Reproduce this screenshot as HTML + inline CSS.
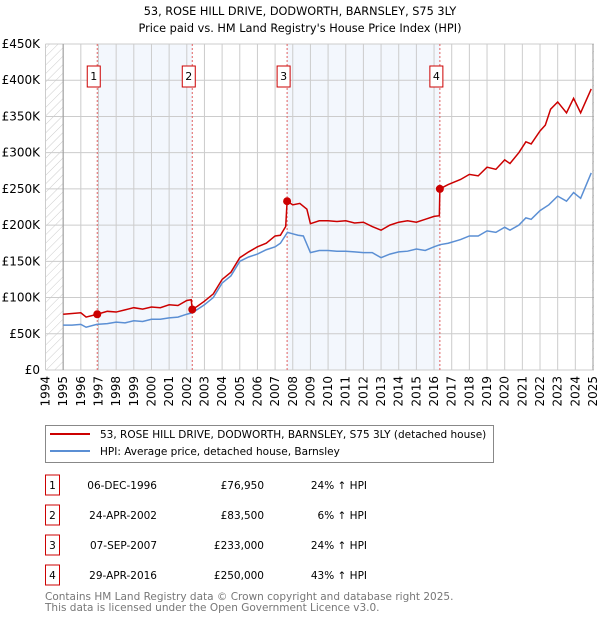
<!DOCTYPE html>
<html><head><meta charset="utf-8"><style>
body{margin:0;background:#fff;font-family:"DejaVu Sans","Liberation Sans",sans-serif;}
svg{display:block}
</style></head><body>
<svg id="c" width="600" height="620" xmlns="http://www.w3.org/2000/svg" font-family="DejaVu Sans, Liberation Sans, sans-serif">
<defs><pattern id="hatch" width="6" height="6" patternUnits="userSpaceOnUse" patternTransform="rotate(45)"><line x1="0" y1="0" x2="0" y2="6" stroke="#ccc" stroke-width="1"/></pattern></defs>
<text x="300" y="15" text-anchor="middle" font-size="11.3">53, ROSE HILL DRIVE, DODWORTH, BARNSLEY, S75 3LY</text>
<text x="300" y="32" text-anchor="middle" font-size="11.3">Price paid vs. HM Land Registry's House Price Index (HPI)</text>
<g id="plot"></g>
<g>
<rect x="45.5" y="425.5" width="448" height="37" fill="#fff" stroke="#888"/>
<line x1="50" y1="434" x2="90" y2="434" stroke="#cc0000" stroke-width="2"/>
<text x="100" y="438" font-size="10.5">53, ROSE HILL DRIVE, DODWORTH, BARNSLEY, S75 3LY (detached house)</text>
<line x1="50" y1="451" x2="90" y2="451" stroke="#5b8fd4" stroke-width="2"/>
<text x="100" y="455" font-size="10.5">HPI: Average price, detached house, Barnsley</text>
</g>
<g id="table" font-size="10.5"></g>
<text x="45" y="600" font-size="10.5" fill="#777">Contains HM Land Registry data © Crown copyright and database right 2025.</text>
<text x="45" y="611" font-size="10.5" fill="#777">This data is licensed under the Open Government Licence v3.0.</text>
</svg>
<script>
const yearTicks=[1994,1995,1996,1997,1998,1999,2000,2001,2002,2003,2004,2005,2006,2007,2008,2009,2010,2011,2012,2013,2014,2015,2016,2017,2018,2019,2020,2021,2022,2023,2024,2025];
const yTicks=[0,50,100,150,200,250,300,350,400,450];
const yTickLabels=["£0","£50K","£100K","£150K","£200K","£250K","£300K","£350K","£400K","£450K"];
const hpiT=[1995,1995.5,1996,1996.3,1996.9,1997.5,1998,1998.5,1999,1999.5,2000,2000.5,2001,2001.5,2002,2002.3,2002.5,2003,2003.5,2004,2004.5,2005,2005.5,2006,2006.5,2007,2007.3,2007.7,2008,2008.3,2008.6,2009,2009.5,2010,2010.5,2011,2011.5,2012,2012.5,2013,2013.5,2014,2014.5,2015,2015.5,2016,2016.33,2016.8,2017.5,2018,2018.5,2019,2019.5,2020,2020.3,2020.8,2021.2,2021.5,2022,2022.5,2023,2023.5,2023.9,2024.3,2024.9];
const hpiV=[62,62,63,59,63,64,66,65,68,67,70,70,72,73,77,79,82,90,100,120,130,150,156,160,166,170,175,190,188,186,185,162,165,165,164,164,163,162,162,155,160,163,164,167,165,170,173,175,180,185,185,192,190,197,193,200,210,208,220,228,240,233,245,237,272];
const redT=[1995,1996,1996.3,1996.93,1997.5,1998,1998.5,1999,1999.5,2000,2000.5,2001,2001.5,2002,2002.25,2002.31,2002.6,2003,2003.5,2004,2004.5,2005,2005.5,2006,2006.5,2007,2007.3,2007.6,2007.68,2008,2008.4,2008.8,2009,2009.5,2010,2010.5,2011,2011.5,2012,2012.5,2013,2013.5,2014,2014.5,2015,2015.5,2016,2016.3,2016.33,2016.8,2017.5,2018,2018.5,2019,2019.5,2020,2020.3,2020.8,2021.2,2021.5,2022,2022.3,2022.6,2023,2023.5,2023.9,2024.3,2024.9];
const redV=[77,79,73,76.95,81,80,83,86,84,87,86,90,89,96,97,83.5,88,95,105,125,135,155,163,170,175,185,186,198,233,228,230,222,202,206,206,205,206,203,204,198,193,200,204,206,204,208,212,213,250,256,263,270,268,280,277,290,285,300,315,312,330,338,360,370,355,375,355,388];
const saleT=[1996.93,2002.31,2007.68,2016.33];
const saleV=[76.95,83.5,233,250];
const saleLabels=["1","2","3","4"];
const saleDates=["06-DEC-1996","24-APR-2002","07-SEP-2007","29-APR-2016"];
const salePrices=["£76,950","£83,500","£233,000","£250,000"];
const salePct=["24% ↑ HPI","6% ↑ HPI","24% ↑ HPI","43% ↑ HPI"];

const NS="http://www.w3.org/2000/svg";
const L=45.5,R=594,T=44,B=370;
const x=t=>L+(t-1994)*(593-L)/31;
const y=v=>B-v*(B-T)/450;
function mk(p,tag,a){const e=document.createElementNS(NS,tag);for(const k in a)e.setAttribute(k,a[k]);p.appendChild(e);return e;}
const g=document.getElementById('plot');
for(let i=0;i<4;i+=2){
const r=mk(g,'rect',{x:x(saleT[i]),y:T,width:x(saleT[i+1])-x(saleT[i]),height:B-T,fill:'#eef3fc',opacity:0.7});


}
const h=mk(g,'rect',{x:L,y:T,width:x(1995)-L,height:B-T,fill:'url(#hatch)'});


const h2=mk(g,'rect',{x:x(2024.95),y:T,width:R-x(2024.95),height:B-T,fill:'url(#hatch)'});


yTicks.forEach((v,i)=>{
const l=mk(g,'line',{x1:L,x2:R,y1:y(v),y2:y(v),stroke:'#ccc','stroke-width':1});


const t=mk(g,'text',{x:40,y:y(v)+4,'text-anchor':'end','font-size':12});
t.textContent=yTickLabels[i];


});
yearTicks.forEach(yr=>{
const l=mk(g,'line',{x1:x(yr),x2:x(yr),y1:T,y2:B,stroke:'#ccc','stroke-width':1});


const t=mk(g,'text',{x:0,y:0,'text-anchor':'end','font-size':12,transform:`translate(${x(yr)+4},376) rotate(-90)`});
t.textContent=yr;


});
const ax=mk(g,'line',{x1:x(1995),x2:x(1995),y1:T,y2:B,stroke:'#999'});


const ax2=mk(g,'line',{x1:x(2025),x2:x(2025),y1:T,y2:B,stroke:'#999'});


saleT.forEach((t,i)=>{
const l=mk(g,'line',{x1:x(t),x2:x(t),y1:T,y2:B,stroke:'#e06060','stroke-dasharray':'2,2'});


const bx=mk(g,'rect',{x:x(t)-10,y:66,width:13,height:21,fill:'#fff',stroke:'#cc0000'});


const tx=mk(g,'text',{x:x(t)-3.5,y:80,'text-anchor':'middle','font-size':11});
tx.textContent=saleLabels[i];


});
const hp=mk(g,'polyline',{points:hpiT.map((t,i)=>x(t)+','+y(hpiV[i])).join(' '),fill:'none',stroke:'#5b8fd4','stroke-width':1.5});


const rp=mk(g,'polyline',{points:redT.map((t,i)=>x(t)+','+y(redV[i])).join(' '),fill:'none',stroke:'#cc0000','stroke-width':1.5});


saleT.forEach((t,i)=>{
const c=mk(g,'circle',{cx:x(t),cy:y(saleV[i]),r:4,fill:'#cc0000'});


});
const tb=document.getElementById('table');
saleT.forEach((t,i)=>{
const yy=485+i*30;
const bx=mk(tb,'rect',{x:45.5,y:yy-10,width:14,height:20,fill:'#fff',stroke:'#cc0000'});


const a=mk(tb,'text',{x:52.5,y:yy+4,'text-anchor':'middle'});a.textContent=saleLabels[i];


const d=mk(tb,'text',{x:157,y:yy+4,'text-anchor':'end'});d.textContent=saleDates[i];


const p=mk(tb,'text',{x:264,y:yy+4,'text-anchor':'end'});p.textContent=salePrices[i];


const q=mk(tb,'text',{x:367,y:yy+4,'text-anchor':'end'});q.textContent=salePct[i];


});
</script>
</body></html>
